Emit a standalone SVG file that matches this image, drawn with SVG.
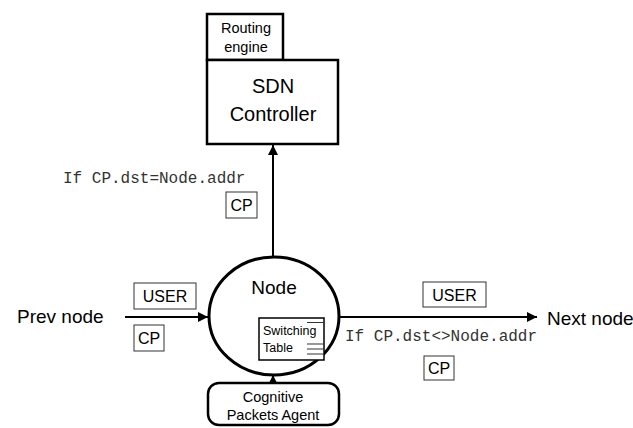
<svg xmlns="http://www.w3.org/2000/svg" width="633" height="428" viewBox="0 0 633 428">
<style>
.t{font-family:"Liberation Sans",Arial,sans-serif;fill:#000}
.m{font-family:"Liberation Mono","Courier New",monospace;fill:#333;font-size:16px}
.box{fill:#fff;stroke:#000;stroke-width:2.5}
.lbl{fill:#fff;stroke:#333;stroke-width:1}
.ln{stroke:#000;stroke-width:2;fill:none}
</style>
<defs>
<marker id="ah" viewBox="0 0 10 10" refX="10" refY="5" markerWidth="5" markerHeight="5" orient="auto" markerUnits="strokeWidth">
<path d="M0,0 L10,5 L0,10 z" fill="#000"/>
</marker>
</defs>
<rect width="633" height="428" fill="#fff"/>
<g id="connectors">
<line class="ln" x1="273" y1="257" x2="273" y2="145" marker-end="url(#ah)"/>
<line class="ln" x1="125" y1="317" x2="208" y2="317" marker-end="url(#ah)"/>
<line class="ln" x1="340" y1="317" x2="537" y2="317" marker-end="url(#ah)"/>
<line class="ln" x1="273" y1="383" x2="273" y2="375" marker-end="url(#ah)"/>
</g>
<g id="routing-engine">
<rect class="box" x="207" y="14" width="76" height="46"/>
<text class="t" x="246" y="33" font-size="14.5" text-anchor="middle">Routing</text>
<text class="t" x="246" y="52" font-size="14.5" text-anchor="middle">engine</text>
</g>
<g id="sdn-controller">
<rect class="box" x="207" y="60" width="131" height="84" stroke-width="3"/>
<text class="t" x="273" y="93" font-size="20" text-anchor="middle">SDN</text>
<text class="t" x="273" y="121" font-size="20" text-anchor="middle">Controller</text>
</g>
<g id="node">
<ellipse cx="274" cy="316" rx="65" ry="59" fill="#fff" stroke="#000" stroke-width="3"/>
<text class="t" x="274" y="294" font-size="19" text-anchor="middle">Node</text>
</g>
<g id="switching-table">
<rect x="259" y="318" width="65" height="42" fill="#fff" stroke="#000" stroke-width="1.5"/>
<line x1="307" y1="322.5" x2="324" y2="322.5" stroke="#333" stroke-width="1"/>
<line x1="307" y1="344" x2="324" y2="344" stroke="#333" stroke-width="1"/>
<line x1="307" y1="349" x2="324" y2="349" stroke="#333" stroke-width="1"/>
<line x1="307" y1="354" x2="324" y2="354" stroke="#333" stroke-width="1"/>
<text class="t" x="263" y="335" font-size="12.5">Switching</text>
<text class="t" x="263" y="352" font-size="12.5">Table</text>
</g>
<g id="cognitive-packets-agent">
<rect class="box" x="208" y="383" width="131" height="42" rx="11" stroke-width="3"/>
<text class="t" x="273" y="402" font-size="14.5" text-anchor="middle">Cognitive</text>
<text class="t" x="273" y="420" font-size="14.5" text-anchor="middle">Packets Agent</text>
</g>
<g id="prev-node">
<text class="t" x="17" y="323" font-size="19">Prev node</text>
</g>
<g id="next-node">
<text class="t" x="547" y="325" font-size="19">Next node</text>
</g>
<g id="labels">
<text class="m" x="63" y="183">If CP.dst=Node.addr</text>
<rect class="lbl" x="226" y="192" width="31" height="26"/>
<text class="t" x="241.5" y="211" font-size="16" text-anchor="middle">CP</text>
<rect class="lbl" x="134" y="283" width="62" height="26"/>
<text class="t" x="165" y="302" font-size="16" text-anchor="middle">USER</text>
<rect class="lbl" x="134" y="325" width="30" height="26"/>
<text class="t" x="149" y="344" font-size="16" text-anchor="middle">CP</text>
<rect class="lbl" x="423" y="282" width="63" height="25"/>
<text class="t" x="454.5" y="301" font-size="16" text-anchor="middle">USER</text>
<text class="m" x="345" y="341" font-size="16.4">If CP.dst&lt;&gt;Node.addr</text>
<rect class="lbl" x="424" y="356" width="30" height="24"/>
<text class="t" x="439" y="374" font-size="16" text-anchor="middle">CP</text>
</g>
</svg>
